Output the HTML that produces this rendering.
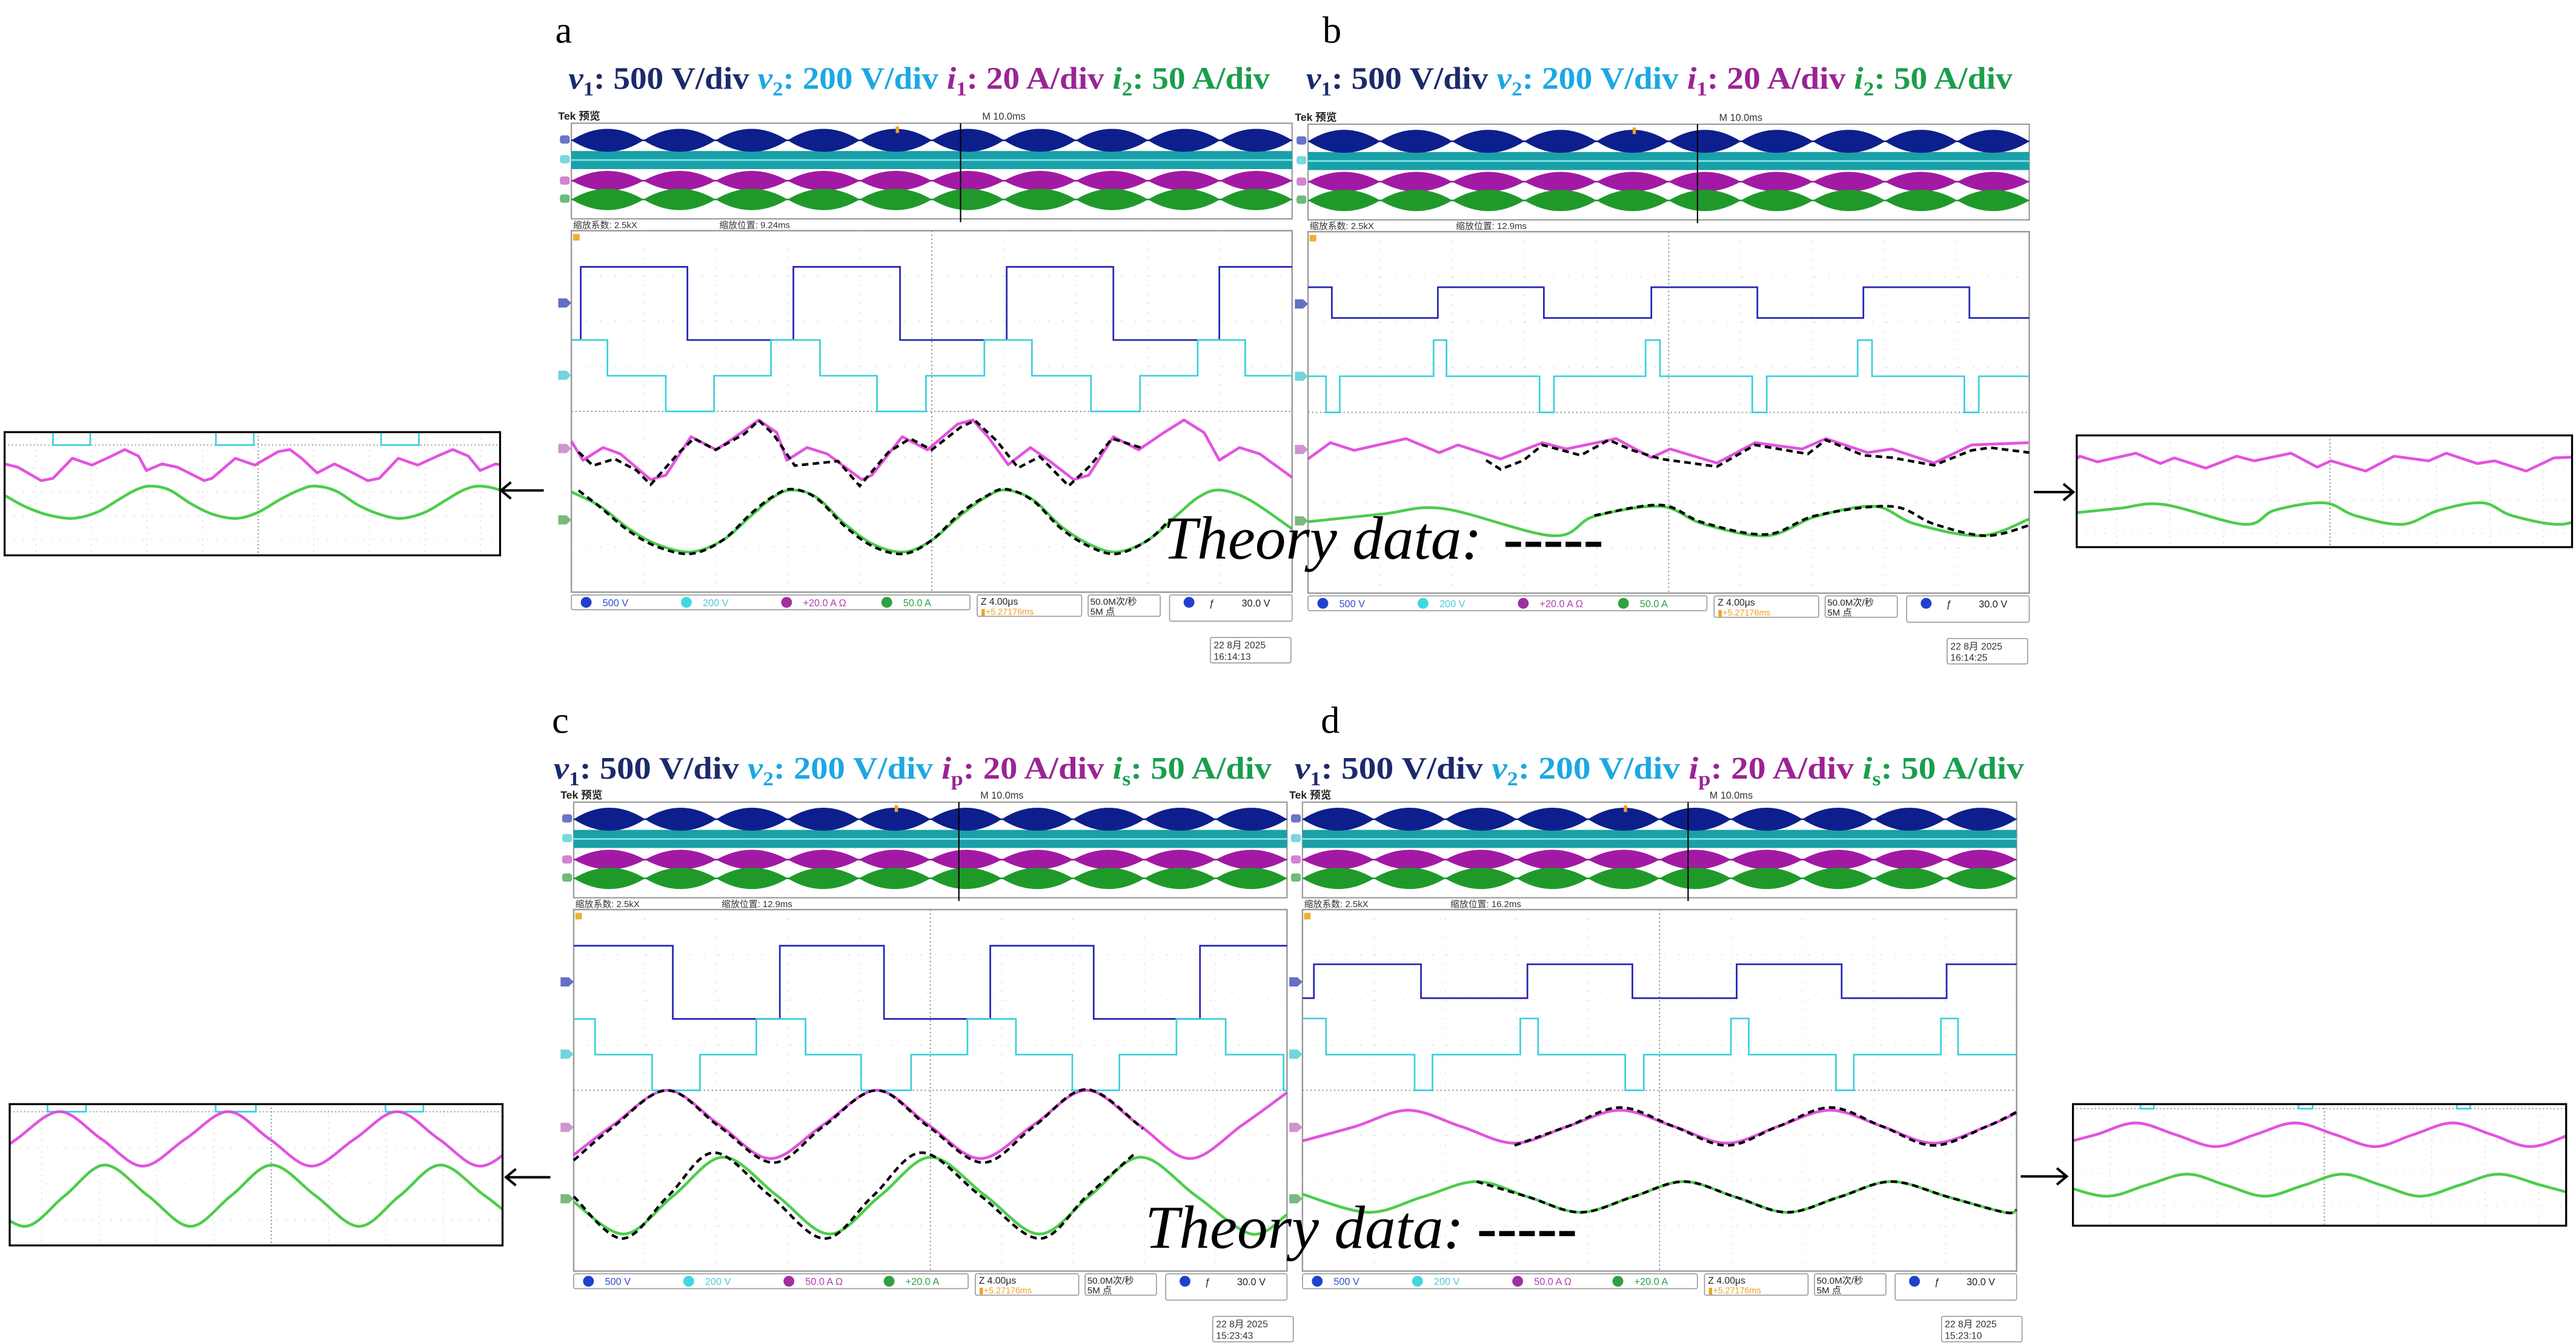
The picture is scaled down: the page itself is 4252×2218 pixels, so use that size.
<!DOCTYPE html>
<html><head><meta charset="utf-8">
<style>
html,body{margin:0;padding:0;background:#fff;}
svg{display:block;}
text{font-family:"Liberation Serif","Noto Serif CJK SC",serif;}
.mono{font-family:"Liberation Sans","Noto Sans CJK SC",sans-serif;}
</style></head>
<body>
<svg id="fig" xmlns="http://www.w3.org/2000/svg" width="4252" height="2218" viewBox="0 0 1568 818" preserveAspectRatio="none">
<rect x="0" y="0" width="1568" height="818" fill="#fff"/>
<!-- panel letters -->
<text x="338" y="26" font-size="23" fill="#000">a</text>
<text x="805" y="26" font-size="23" fill="#000">b</text>
<text x="336" y="446" font-size="23" fill="#000">c</text>
<text x="804" y="446" font-size="23" fill="#000">d</text>
<!-- scale labels -->
<text x="346" y="54" font-size="19" font-weight="bold" textLength="427" lengthAdjust="spacingAndGlyphs"><tspan fill="#1b2a6b" font-style="italic">v</tspan><tspan fill="#1b2a6b" font-size="12" dy="4">1</tspan><tspan fill="#1b2a6b" dy="-4">: 500 V/div </tspan><tspan fill="#1ba8e2" font-style="italic">v</tspan><tspan fill="#1ba8e2" font-size="12" dy="4">2</tspan><tspan fill="#1ba8e2" dy="-4">: 200 V/div </tspan><tspan fill="#9b2396" font-style="italic">i</tspan><tspan fill="#9b2396" font-size="12" dy="4">1</tspan><tspan fill="#9b2396" dy="-4">: 20 A/div </tspan><tspan fill="#1a9e4c" font-style="italic">i</tspan><tspan fill="#1a9e4c" font-size="12" dy="4">2</tspan><tspan fill="#1a9e4c" dy="-4">: 50 A/div</tspan></text>
<text x="795" y="54" font-size="19" font-weight="bold" textLength="430" lengthAdjust="spacingAndGlyphs"><tspan fill="#1b2a6b" font-style="italic">v</tspan><tspan fill="#1b2a6b" font-size="12" dy="4">1</tspan><tspan fill="#1b2a6b" dy="-4">: 500 V/div </tspan><tspan fill="#1ba8e2" font-style="italic">v</tspan><tspan fill="#1ba8e2" font-size="12" dy="4">2</tspan><tspan fill="#1ba8e2" dy="-4">: 200 V/div </tspan><tspan fill="#9b2396" font-style="italic">i</tspan><tspan fill="#9b2396" font-size="12" dy="4">1</tspan><tspan fill="#9b2396" dy="-4">: 20 A/div </tspan><tspan fill="#1a9e4c" font-style="italic">i</tspan><tspan fill="#1a9e4c" font-size="12" dy="4">2</tspan><tspan fill="#1a9e4c" dy="-4">: 50 A/div</tspan></text>
<text x="337" y="474" font-size="19" font-weight="bold" textLength="437" lengthAdjust="spacingAndGlyphs"><tspan fill="#1b2a6b" font-style="italic">v</tspan><tspan fill="#1b2a6b" font-size="12" dy="4">1</tspan><tspan fill="#1b2a6b" dy="-4">: 500 V/div </tspan><tspan fill="#1ba8e2" font-style="italic">v</tspan><tspan fill="#1ba8e2" font-size="12" dy="4">2</tspan><tspan fill="#1ba8e2" dy="-4">: 200 V/div </tspan><tspan fill="#9b2396" font-style="italic">i</tspan><tspan fill="#9b2396" font-size="12" dy="4">p</tspan><tspan fill="#9b2396" dy="-4">: 20 A/div </tspan><tspan fill="#1a9e4c" font-style="italic">i</tspan><tspan fill="#1a9e4c" font-size="12" dy="4">s</tspan><tspan fill="#1a9e4c" dy="-4">: 50 A/div</tspan></text>
<text x="788" y="474" font-size="19" font-weight="bold" textLength="444" lengthAdjust="spacingAndGlyphs"><tspan fill="#1b2a6b" font-style="italic">v</tspan><tspan fill="#1b2a6b" font-size="12" dy="4">1</tspan><tspan fill="#1b2a6b" dy="-4">: 500 V/div </tspan><tspan fill="#1ba8e2" font-style="italic">v</tspan><tspan fill="#1ba8e2" font-size="12" dy="4">2</tspan><tspan fill="#1ba8e2" dy="-4">: 200 V/div </tspan><tspan fill="#9b2396" font-style="italic">i</tspan><tspan fill="#9b2396" font-size="12" dy="4">p</tspan><tspan fill="#9b2396" dy="-4">: 20 A/div </tspan><tspan fill="#1a9e4c" font-style="italic">i</tspan><tspan fill="#1a9e4c" font-size="12" dy="4">s</tspan><tspan fill="#1a9e4c" dy="-4">: 50 A/div</tspan></text>
<g id="scopes"></g>
<g id="insets"></g>
<g id="notes">
<text x="708" y="340" font-size="37" font-style="italic" textLength="194" lengthAdjust="spacingAndGlyphs" fill="#000">Theory data:</text>
<text x="915" y="340" font-size="37" font-weight="bold" textLength="61" lengthAdjust="spacingAndGlyphs" fill="#000">-----</text>
<text x="697" y="759.5" font-size="37" font-style="italic" textLength="194" lengthAdjust="spacingAndGlyphs" fill="#000">Theory data:</text>
<text x="899" y="759.5" font-size="37" font-weight="bold" textLength="61" lengthAdjust="spacingAndGlyphs" fill="#000">-----</text>
</g>
</svg>
<script>
// ===== Panel a data (time in divisions, value in divisions) =====
const aV1Edges=[0,0.13,1.61,3.08,4.56,6.04,7.52,8.99,10];
const aV1Levels=[1.58,3.2,1.58,3.2,1.58,3.2,1.58,3.2];
const aV2Edges=[0,0.50,1.31,1.98,2.77,3.45,4.24,4.92,5.73,6.39,7.21,7.89,8.69,9.35,10];
const aV2Levels=[1.58,0.79,0,0.79,1.58,0.79,0,0.79,1.58,0.79,0,0.79,1.58,0.79];
const aI1T=[0,0.16,0.44,0.68,1.10,1.31,1.66,2.01,2.36,2.60,2.85,2.99,3.27,3.55,4.03,4.17,4.59,4.94,5.36,5.57,5.78,6.06,6.37,6.62,6.97,7.18,7.52,7.87,8.22,8.50,8.78,8.99,9.27,9.55,10];
const aI1V=[-0.66,-1.08,-0.80,-0.94,-1.51,-1.41,-0.56,-0.85,-0.47,-0.19,-0.47,-1.08,-0.80,-0.94,-1.51,-1.41,-0.56,-0.85,-0.28,-0.19,-0.56,-1.18,-0.80,-1.08,-1.51,-1.41,-0.56,-0.85,-0.47,-0.19,-0.47,-1.08,-0.80,-0.94,-1.46];
const aI1ThT=[0.1,0.3,0.6,0.9,1.1,1.5,1.7,2.0,2.4,2.6,2.8,3.1,3.4,3.7,4.0,4.4,4.7,5.0,5.4,5.6,5.9,6.2,6.5,6.9,7.2,7.5,7.9];
const aI1ThV=[-0.9,-1.2,-1.05,-1.3,-1.62,-0.9,-0.6,-0.85,-0.5,-0.2,-0.5,-1.2,-1.15,-1.1,-1.65,-0.9,-0.6,-0.85,-0.35,-0.2,-0.65,-1.25,-1.0,-1.65,-1.2,-0.6,-0.8];
const aI2T=[0,0.4,0.8,1.2,1.66,2.1,2.5,2.8,3.06,3.4,3.8,4.2,4.62,5.0,5.4,5.75,6.02,6.4,6.8,7.2,7.57,8.0,8.4,8.7,8.99,9.4,10];
const aI2V=[-1.78,-2.1,-2.6,-2.95,-3.11,-2.85,-2.3,-1.9,-1.74,-1.9,-2.5,-2.95,-3.11,-2.85,-2.3,-1.9,-1.74,-1.95,-2.55,-2.95,-3.11,-2.85,-2.3,-1.9,-1.74,-1.95,-2.6];
const aI2ThT=[0.1,0.4,0.8,1.2,1.66,2.1,2.5,2.8,3.06,3.4,3.8,4.2,4.62,5.0,5.4,5.75,6.02,6.4,6.8,7.2,7.57,8.0,8.3];
const aI2ThV=[-1.75,-2.12,-2.65,-3.0,-3.15,-2.85,-2.25,-1.88,-1.72,-1.92,-2.55,-3.0,-3.15,-2.85,-2.25,-1.88,-1.72,-1.97,-2.6,-3.0,-3.15,-2.85,-2.4];
// ===== Panel b data =====
const bV1Edges=[0,0.33,1.80,3.27,4.76,6.23,7.70,9.17,10];
const bV1Levels=[2.77,2.09,2.77,2.09,2.77,2.09,2.77,2.09];
const bV2Edges=[0,0.25,0.44,1.74,1.92,3.21,3.41,4.68,4.88,6.16,6.36,7.62,7.82,9.10,9.30,10];
const bV2Levels=[0.8,0,0.8,1.6,0.8,0,0.8,1.6,0.8,0,0.8,1.6,0.8,0,0.8];
const bI1T=[0,0.31,0.64,1.36,1.82,2.08,2.67,3.25,3.58,4.27,4.76,5.02,5.67,6.20,6.85,7.18,7.76,8.09,8.68,9.20,9.99];
const bI1V=[-1.03,-0.67,-0.84,-0.58,-0.89,-0.72,-1.03,-0.67,-0.81,-0.58,-1.00,-0.81,-1.12,-0.67,-0.81,-0.58,-0.89,-0.81,-1.12,-0.72,-0.67];
const bI1ThT=[2.47,2.67,2.99,3.25,3.78,4.17,4.50,4.89,5.67,6.20,6.93,7.18,7.70,8.09,8.68,9.20,9.46,10.0];
const bI1ThV=[-1.06,-1.26,-1.06,-0.72,-0.95,-0.61,-0.84,-1.03,-1.20,-0.72,-0.92,-0.61,-0.95,-1.00,-1.17,-0.84,-0.78,-0.89];
const bI2T=[0,1.03,1.88,3.39,3.97,4.89,5.48,6.36,7.05,7.86,8.42,9.33,10.0];
const bI2V=[-2.42,-2.25,-2.13,-2.73,-2.30,-2.08,-2.47,-2.73,-2.30,-2.08,-2.47,-2.73,-2.36];
const bI2ThT=[3.97,4.89,5.48,6.36,7.05,8.09,8.68,9.40,10.0];
const bI2ThV=[-2.28,-2.05,-2.44,-2.70,-2.28,-2.08,-2.47,-2.73,-2.50];
// ===== Panel c data =====
const cV1Edges=[0,1.39,2.89,4.35,5.84,7.29,8.78,10];
const cV1Levels=[3.2,1.58,3.2,1.58,3.2,1.58,3.2];
const cV2Edges=[0,0.30,1.10,1.77,2.56,3.25,4.03,4.73,5.52,6.20,6.99,7.65,8.45,9.14,9.95,10];
const cV2Levels=[1.58,0.79,0,0.79,1.58,0.79,0,0.79,1.58,0.79,0,0.79,1.58,0.79,0];
const cI1T=[0,0.56,1.31,2.04,2.76,3.50,4.25,4.97,5.70,6.45,7.19,7.92,8.64,9.38,10];
const cI1V=[-1.43,-0.76,0,-0.76,-1.51,-0.76,0,-0.76,-1.51,-0.76,0,-0.76,-1.51,-0.76,-0.05];
const cI1ThT=[0,0.56,1.31,2.04,2.8,3.5,4.25,4.97,5.74,6.45,7.19,7.98];
const cI1ThV=[-1.55,-0.8,0,-0.8,-1.6,-0.8,0,-0.8,-1.6,-0.8,0.02,-0.85];
const cI2T=[0,0.71,1.40,2.10,2.85,3.59,4.30,5.01,5.77,6.53,7.24,7.95,8.72,9.5,10];
const cI2V=[-2.47,-3.18,-2.33,-1.48,-2.33,-3.18,-2.33,-1.48,-2.33,-3.18,-2.33,-1.48,-2.33,-3.18,-2.75];
const cI2ThT=[0,0.68,1.33,1.97,2.75,3.52,4.2,4.88,5.7,6.53,7.2,7.88];
const cI2ThV=[-2.35,-3.28,-2.33,-1.38,-2.33,-3.28,-2.33,-1.38,-2.33,-3.28,-2.33,-1.38];
// ===== Panel d data =====
const dV1Edges=[0,0.16,1.66,3.15,4.62,6.08,7.55,9.02,10];
const dV1Levels=[2.04,2.79,2.04,2.79,2.04,2.79,2.04,2.79];
const dV2Edges=[0,0.33,1.57,1.82,3.05,3.30,4.52,4.78,6.0,6.25,7.47,7.72,8.94,9.18,10];
const dV2Levels=[1.59,0.79,0,0.79,1.59,0.79,0,0.79,1.59,0.79,0,0.79,1.59,0.79];
const dI1T=[0,0.74,1.48,2.22,2.97,3.71,4.45,5.2,5.94,6.66,7.39,8.12,8.84,9.58,10];
const dI1V=[-1.12,-0.8,-0.44,-0.8,-1.17,-0.8,-0.44,-0.8,-1.17,-0.8,-0.44,-0.8,-1.17,-0.8,-0.5];
const dI1ThT=[2.97,3.71,4.45,5.2,5.94,6.66,7.39,8.12,8.84,9.58,10];
const dI1ThV=[-1.22,-0.8,-0.38,-0.8,-1.22,-0.8,-0.38,-0.8,-1.22,-0.8,-0.48];
const dI2T=[0,0.92,1.68,2.44,3.16,3.89,4.62,5.34,6.06,6.79,7.52,8.25,9.04,9.83,10];
const dI2V=[-2.30,-2.70,-2.36,-2.02,-2.36,-2.70,-2.36,-2.02,-2.36,-2.70,-2.36,-2.02,-2.36,-2.70,-2.65];
const dI2ThT=[2.44,3.16,3.89,4.62,5.34,6.06,6.79,7.52,8.25,9.04,9.83,10];
const dI2ThV=[-2.02,-2.36,-2.70,-2.36,-2.02,-2.36,-2.70,-2.36,-2.02,-2.36,-2.70,-2.65];
// channel marker levels and annotation text
const markerLevels=[2.4,0.8,-0.82,-2.4];
const zoomPositions=["9.24ms","12.9ms","12.9ms","16.2ms"];
const timeStamps=["16:14:13","16:14:25","15:23:43","15:23:10"];
const ch3Text=["+20.0 A \u03a9","+20.0 A \u03a9","50.0 A \u03a9","50.0 A \u03a9"];
const ch4Text=["50.0 A","50.0 A","+20.0 A","+20.0 A"];

const NS="http://www.w3.org/2000/svg";
const COL={v1:"#2424b4",v2:"#3cd0dc",i1:"#e040dc",i2:"#38c838",th:"#000"};
function mk(parent,tag,attrs,name,txt){
  const e=document.createElementNS(NS,tag);
  for(const k in attrs) e.setAttribute(k,attrs[k]);
  
  
  if(txt!==undefined) e.textContent=txt;
  parent.appendChild(e);
  return e;
}
function stepPath(edges,levels,sx,sy){
  let d="M"+sx(edges[0]).toFixed(2)+","+sy(levels[0]).toFixed(2);
  for(let i=0;i<levels.length;i++){
    d+=" L"+sx(edges[i+1]).toFixed(2)+","+sy(levels[i]).toFixed(2);
    if(i+1<levels.length) d+=" L"+sx(edges[i+1]).toFixed(2)+","+sy(levels[i+1]).toFixed(2);
  }
  return d;
}
function linePath(T,V,sx,sy){
  return T.map((t,i)=>(i?"L":"M")+sx(t).toFixed(2)+","+sy(V[i]).toFixed(2)).join(" ");
}
function smoothPath(T,V,sx,sy){
  const p=T.map((t,i)=>[sx(t),sy(V[i])]);
  let d="M"+p[0][0].toFixed(2)+","+p[0][1].toFixed(2);
  for(let i=0;i<p.length-1;i++){
    const p0=p[i-1]||p[i],p1=p[i],p2=p[i+1],p3=p[i+2]||p[i+1];
    const c1=[p1[0]+(p2[0]-p0[0])/6,p1[1]+(p2[1]-p0[1])/6];
    const c2=[p2[0]-(p3[0]-p1[0])/6,p2[1]-(p3[1]-p1[1])/6];
    d+=" C"+c1.map(v=>v.toFixed(2)).join(",")+" "+c2.map(v=>v.toFixed(2)).join(",")+" "+p2[0].toFixed(2)+","+p2[1].toFixed(2);
  }
  return d;
}
const DATA=[
 {v1e:aV1Edges,v1l:aV1Levels,v2e:aV2Edges,v2l:aV2Levels,i1t:aI1T,i1v:aI1V,i1tt:aI1ThT,i1tv:aI1ThV,i2t:aI2T,i2v:aI2V,i2tt:aI2ThT,i2tv:aI2ThV,smoothI1:false},
 {v1e:bV1Edges,v1l:bV1Levels,v2e:bV2Edges,v2l:bV2Levels,i1t:bI1T,i1v:bI1V,i1tt:bI1ThT,i1tv:bI1ThV,i2t:bI2T,i2v:bI2V,i2tt:bI2ThT,i2tv:bI2ThV,smoothI1:false},
 {v1e:cV1Edges,v1l:cV1Levels,v2e:cV2Edges,v2l:cV2Levels,i1t:cI1T,i1v:cI1V,i1tt:cI1ThT,i1tv:cI1ThV,i2t:cI2T,i2v:cI2V,i2tt:cI2ThT,i2tv:cI2ThV,smoothI1:true},
 {v1e:dV1Edges,v1l:dV1Levels,v2e:dV2Edges,v2l:dV2Levels,i1t:dI1T,i1v:dI1V,i1tt:dI1ThT,i1tv:dI1ThV,i2t:dI2T,i2v:dI2V,i2tt:dI2ThT,i2tv:dI2ThV,smoothI1:true}
];
const GEOM=[{id:'a',L:347.8,W:438.7,CY:250.4},{id:'b',L:796.2,W:439,CY:251},{id:'c',L:349.2,W:434.2,CY:663.6},{id:'d',L:792.8,W:434.7,CY:663.6}];
const DIVH=27.5;

function drawTraces(g,D,sx,sy,withTheory,id){
  const p1=mk(g,'path',{d:stepPath(D.v1e,D.v1l,sx,sy),fill:'none',stroke:COL.v1,'stroke-width':1},'v1-trace-'+id);
  const p2=mk(g,'path',{d:stepPath(D.v2e,D.v2l,sx,sy),fill:'none',stroke:COL.v2,'stroke-width':1},'v2-trace-'+id);
  const f1=D.smoothI1?smoothPath:linePath;
  mk(g,'path',{d:f1(D.i1t,D.i1v,sx,sy),fill:'none',stroke:COL.i1,'stroke-width':1.7,'stroke-linejoin':'round','stroke-opacity':0.9},'i1-trace-'+id);
  mk(g,'path',{d:smoothPath(D.i2t,D.i2v,sx,sy),fill:'none',stroke:COL.i2,'stroke-width':1.7,'stroke-linejoin':'round','stroke-opacity':0.9},'i2-trace-'+id);
  if(withTheory){
    mk(g,'path',{d:f1(D.i1tt,D.i1tv,sx,sy),fill:'none',stroke:COL.th,'stroke-width':1.6,'stroke-dasharray':'4 2.6'},'i1-theory-'+id);
    mk(g,'path',{d:smoothPath(D.i2tt,D.i2tv,sx,sy),fill:'none',stroke:COL.th,'stroke-width':1.6,'stroke-dasharray':'4 2.6'},'i2-theory-'+id);
  }
}

const scopes=document.getElementById('scopes');
GEOM.forEach((G,k)=>{
  const D=DATA[k];
  const g=mk(scopes,'g',{},'oscilloscope-'+G.id);
  const L=G.L,W=G.W,CY=G.CY,R=L+W,top=CY-4*DIVH,bot=CY+4*DIVH,dw=W/10;
  const sx=t=>L+t*dw, sy=v=>CY-v*DIVH;
  // header
  mk(g,'text',{x:L-8,y:CY-177.5,'font-size':6.5,'font-weight':'bold',fill:'#222',class:'mono'},'tek-label-'+G.id,'Tek 预览');
  mk(g,'text',{x:L+W*0.57,y:CY-177.5,'font-size':6,fill:'#333',class:'mono'},'timebase-label-'+G.id,'M 10.0ms');
  // overview
  const oTop=CY-175.4,oBot=CY-117.2;
  mk(g,'rect',{x:L,y:oTop,width:W,height:oBot-oTop,fill:'#fff',stroke:'#999','stroke-width':0.8},'overview-frame-'+G.id);
  const rows=[[CY-165,7,'#0d1f8c','blue'],[CY-140.4,6,'#a21aa4','magenta'],[CY-129,6.5,'#1f9a2a','green']];
  mk(g,'rect',{x:L,y:CY-158.5,width:W,height:11,fill:'#1aa0a8'},'overview-v2-band-'+G.id);
  mk(g,'line',{x1:L,x2:R,y1:CY-153,y2:CY-153,stroke:'#7fe6ea','stroke-width':1},'overview-v2-center-'+G.id);
  rows.forEach(r=>{
    let d="";
    for(let i=0;i<10;i++){
      const x0=L+i*dw,x1=x0+dw,xm=(x0+x1)/2;
      d+="M"+x0+","+r[0]+" Q"+xm+","+(r[0]-2*r[1])+" "+x1+","+r[0]+" Q"+xm+","+(r[0]+2*r[1])+" "+x0+","+r[0]+"Z ";
    }
    mk(g,'path',{d:d,fill:r[2]},'overview-'+r[3]+'-envelope-'+G.id);
    mk(g,'line',{x1:L,x2:R,y1:r[0],y2:r[0],stroke:r[2],'stroke-width':1},'overview-'+r[3]+'-line-'+G.id);
  });
  mk(g,'line',{x1:L+W*0.54,x2:L+W*0.54,y1:oTop,y2:oBot+2,stroke:'#000','stroke-width':0.8},'overview-window-marker-'+G.id);
  mk(g,'rect',{x:L+W*0.45,y:oTop+2,width:2,height:4,fill:'#f0a020'},'overview-trigger-marker-'+G.id);
  ['#2a3ab0','#40c8d0','#c050c0','#30a040'].forEach((c,i)=>{
    mk(g,'rect',{x:L-7,y:[CY-168,CY-156,CY-143,CY-132][i],width:6,height:5,rx:1.5,fill:c,'fill-opacity':0.7},'overview-channel-tag-'+(i+1)+'-'+G.id);
  });
  mk(g,'text',{x:L+1,y:CY-111.5,'font-size':5.5,fill:'#333',class:'mono'},'zoom-factor-'+G.id,'缩放系数: 2.5kX');
  mk(g,'text',{x:L+90,y:CY-111.5,'font-size':5.5,fill:'#333',class:'mono'},'zoom-position-'+G.id,'缩放位置: '+zoomPositions[k]);
  // main graticule
  mk(g,'rect',{x:L,y:top,width:W,height:bot-top,fill:'#fff',stroke:'#9a9a9a','stroke-width':0.9},'graticule-frame-'+G.id);
  for(let i=1;i<10;i++){
    mk(g,'line',{x1:sx(i),x2:sx(i),y1:top,y2:bot,stroke:i===5?'#888':'#c8c8c8','stroke-width':i===5?0.7:0.5,'stroke-dasharray':i===5?'0.8 1.6':'0.6 4.9'},'grid-vertical-'+i+'-'+G.id);
  }
  for(let j=-3;j<=3;j++){
    mk(g,'line',{x1:L,x2:R,y1:sy(j),y2:sy(j),stroke:j===0?'#888':'#c8c8c8','stroke-width':j===0?0.7:0.5,'stroke-dasharray':j===0?'0.8 1.6':'0.6 8.2'},'grid-horizontal-'+j+'-'+G.id);
  }
  mk(g,'rect',{x:L+1,y:top+2,width:4,height:4,fill:'#f0b030'},'trigger-tag-'+G.id);
  // channel markers
  ['#3040b0','#40c8d0','#c070c0','#50a050'].forEach((c,i)=>{
    mk(g,'path',{d:'M'+(L-8)+','+(sy(markerLevels[i])-2.8)+' h5 l3,2.8 l-3,2.8 h-5 z',fill:c,'fill-opacity':0.75},'channel-marker-'+(i+1)+'-'+G.id);
  });
  drawTraces(g,D,sx,sy,true,G.id);
  // status bar
  const sb=CY+111.7;
  mk(g,'rect',{x:L,y:sb,width:W*0.553,height:9,fill:'#fff',stroke:'#999','stroke-width':0.6,rx:1},'channel-status-box-'+G.id);
  const chs=[['#2040d0','1','500 V','#3050d0'],['#40d8e0','2','200 V','#50c8e0'],['#a030a0','3',ch3Text[k],'#b040b0'],['#30a040','4',ch4Text[k],'#30a040']];
  chs.forEach((c,i)=>{
    const cx=L+9+i*61;
    mk(g,'circle',{cx:cx,cy:sb+4.5,r:3.3,fill:c[0]},'channel-badge-'+c[1]+'-'+G.id);
    mk(g,'text',{x:cx+10,y:sb+6.8,'font-size':6,fill:c[3],class:'mono'},'channel-scale-'+c[1]+'-'+G.id,c[2]);
  });
  mk(g,'rect',{x:L+W*0.563,y:sb,width:W*0.145,height:13,fill:'#fff',stroke:'#999','stroke-width':0.6,rx:1},'horizontal-box-'+G.id);
  mk(g,'text',{x:L+W*0.568,y:sb+6,'font-size':5.8,fill:'#222',class:'mono'},'horizontal-scale-'+G.id,'Z 4.00μs');
  mk(g,'text',{x:L+W*0.568,y:sb+12,'font-size':5.3,fill:'#f0a020',class:'mono'},'trigger-offset-'+G.id,'▮+5.27176ms');
  mk(g,'rect',{x:L+W*0.717,y:sb,width:W*0.1,height:13,fill:'#fff',stroke:'#999','stroke-width':0.6,rx:1},'acquisition-box-'+G.id);
  mk(g,'text',{x:L+W*0.72,y:sb+6,'font-size':5.6,fill:'#222',class:'mono'},'sample-rate-'+G.id,'50.0M次/秒');
  mk(g,'text',{x:L+W*0.72,y:sb+12,'font-size':5.6,fill:'#222',class:'mono'},'record-length-'+G.id,'5M 点');
  mk(g,'rect',{x:L+W*0.83,y:sb,width:W*0.17,height:16,fill:'#fff',stroke:'#999','stroke-width':0.6,rx:1},'trigger-box-'+G.id);
  mk(g,'circle',{cx:L+W*0.857,cy:sb+4.5,r:3.3,fill:'#2040d0'},'trigger-channel-badge-'+G.id);
  mk(g,'text',{x:L+W*0.885,y:sb+7,'font-size':6,fill:'#222',class:'mono'},'trigger-slope-'+G.id,'ƒ');
  mk(g,'text',{x:L+W*0.93,y:sb+7,'font-size':6,fill:'#222',class:'mono'},'trigger-level-'+G.id,'30.0 V');
  mk(g,'rect',{x:L+389,y:CY+137.6,width:49,height:15.5,fill:'#fff',stroke:'#999','stroke-width':0.6,rx:1},'date-box-'+G.id);
  mk(g,'text',{x:L+391,y:CY+144.3,'font-size':5.8,fill:'#333',class:'mono'},'date-'+G.id,'22 8月  2025');
  mk(g,'text',{x:L+391,y:CY+151.2,'font-size':5.8,fill:'#333',class:'mono'},'time-'+G.id,timeStamps[k]);
});

// ===== insets (magnified crops of measured traces) =====
const INSETS=[
 {p:0,x0:2.8,x1:304.4,y0:263,y1:338,t0:0.44,t1:9.35,v0:0.55,v1:-4.68,ax:[331,305,298.5]},
 {p:1,x0:1264.1,x1:1565.6,y0:265,y1:333,t0:0.25,t1:9.54,v0:-0.04,v1:-3.42,ax:[1238,1262,299.5]},
 {p:2,x0:5.9,x1:305.9,y0:672,y1:758,t0:0.44,t1:9.03,v0:0.21,v1:-3.71,ax:[335,308,716.5]},
 {p:3,x0:1261.8,x1:1562,y0:672,y1:746,t0:0.31,t1:9.51,v0:0.14,v1:-3.61,ax:[1230,1258,716]}
];
const insG=document.getElementById('insets');
const defs=mk(insG,'defs',{},'inset-clip-defs');
INSETS.forEach((I,k)=>{
  const id=GEOM[I.p].id;
  const sx=t=>I.x0+(t-I.t0)/(I.t1-I.t0)*(I.x1-I.x0);
  const sy=v=>I.y0+(I.v0-v)/(I.v0-I.v1)*(I.y1-I.y0);
  const cp=mk(defs,'clipPath',{id:'clip'+k},'inset-clip-'+id);
  mk(cp,'rect',{x:I.x0,y:I.y0,width:I.x1-I.x0,height:I.y1-I.y0},'inset-clip-rect-'+id);
  const g=mk(insG,'g',{'clip-path':'url(#clip'+k+')'},'inset-'+id);
  mk(g,'rect',{x:I.x0,y:I.y0,width:I.x1-I.x0,height:I.y1-I.y0,fill:'#fff'},'inset-bg-'+id);
  for(let t=Math.ceil(I.t0);t<=I.t1;t++){
    mk(g,'line',{x1:sx(t),x2:sx(t),y1:I.y0,y2:I.y1,stroke:t===5?'#999':'#ccc','stroke-width':t===5?0.8:0.5,'stroke-dasharray':t===5?'0.8 1.4':'0.6 3'},'inset-grid-v-'+t+'-'+id);
  }
  for(let v=Math.floor(I.v0);v>=I.v1;v--){
    mk(g,'line',{x1:I.x0,x2:I.x1,y1:sy(v),y2:sy(v),stroke:v===0?'#aaa':'#ccc','stroke-width':v===0?0.8:0.5,'stroke-dasharray':v===0?'0.8 1.4':'0.6 5'},'inset-grid-h-'+v+'-'+id);
  }
  drawTraces(g,DATA[I.p],sx,sy,false,'inset-'+id);
  mk(insG,'rect',{x:I.x0,y:I.y0,width:I.x1-I.x0,height:I.y1-I.y0,fill:'none',stroke:'#000','stroke-width':1.2},'inset-frame-'+id);
  const [xa,xb,ya]=I.ax, dir=xb<xa?1:-1;
  mk(insG,'path',{d:'M'+xa+','+ya+' L'+xb+','+ya+' M'+(xb+dir*6)+','+(ya-5)+' L'+xb+','+ya+' L'+(xb+dir*6)+','+(ya+5),fill:'none',stroke:'#000','stroke-width':1.5},'inset-arrow-'+id);
});
</script>
</body></html>
